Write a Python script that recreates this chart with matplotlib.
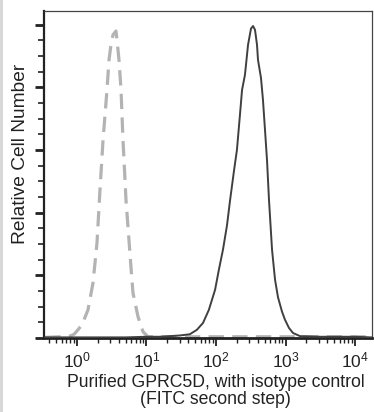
import matplotlib
matplotlib.use("Agg")
import matplotlib.pyplot as plt
from matplotlib.ticker import LogLocator, MultipleLocator, NullFormatter
from matplotlib.patches import Rectangle

plt.rcParams["font.family"] = ["Liberation Sans", "DejaVu Sans"]
plt.rcParams["mathtext.fontset"] = "custom"
plt.rcParams["mathtext.rm"] = "Liberation Sans"
plt.rcParams["mathtext.it"] = "Liberation Sans:italic"
plt.rcParams["mathtext.bf"] = "Liberation Sans:bold"

# GPRC5D stained sample (solid line)
sample_x = [0.35, 1.0, 5.0, 10.0, 15.6, 30, 42, 53, 65, 79, 97, 110, 126, 144, 159, 182,
            200, 221, 237, 261, 289, 319, 341, 364, 389, 402, 444, 474, 507, 542,
            560, 579, 640, 707, 780, 891, 984, 1123, 1282, 1617, 3133, 10000, 17000]
sample_y = [0.01, 0.01, 0.01, 0.02, 0.02, 0.04, 0.06, 0.13, 0.24, 0.45, 0.77, 1.09, 1.41,
            1.80, 2.19, 2.68, 3.00, 3.56, 3.96, 4.20, 4.68, 4.94, 4.98, 4.92, 4.68,
            4.44, 4.15, 3.80, 3.32, 2.84, 2.52, 2.20, 1.41, 0.93, 0.65, 0.42, 0.29,
            0.16, 0.08, 0.03, 0.02, 0.02, 0.01]

# isotype control (dashed line)
iso_x = [0.35, 0.57, 0.79, 0.91, 1.03, 1.18, 1.44, 1.70, 1.94, 2.14, 2.37, 2.53, 2.70,
         2.89, 3.08, 3.30, 3.64, 3.76, 4.02, 4.30, 4.59, 4.91, 5.07, 5.42, 5.98,
         6.39, 7.55, 8.91, 10.5, 100, 1000, 10000, 17000]
iso_y = [0.01, 0.02, 0.03, 0.06, 0.13, 0.21, 0.45, 0.88, 1.52, 2.36, 3.16, 3.56, 3.96,
         4.44, 4.68, 4.84, 4.90, 4.76, 4.44, 3.96, 3.16, 2.52, 2.20, 1.77, 1.13,
         0.72, 0.34, 0.10, 0.02, 0.02, 0.02, 0.02, 0.02]

x_label = "Purified GPRC5D, with isotype control\n(FITC second step)"
y_label = "Relative Cell Number"

fig = plt.figure(figsize=(3.74, 4.12), dpi=100)
ax = fig.add_axes([0.1176, 0.1796, 0.8771, 0.7937])

ax.plot(iso_x, iso_y, color="#b3b3b3", lw=2.3, dashes=(4.8, 2.6), zorder=2)
ax.plot(sample_x, sample_y, color="#404040", lw=1.4, zorder=3)

ax.set_xscale("log")
ax.set_xlim(0.335, 17570)
ax.set_ylim(0, 5.22)

ax.xaxis.set_major_locator(LogLocator(base=10, numticks=10))
ax.xaxis.set_minor_locator(LogLocator(base=10, subs=range(2, 10), numticks=20))
ax.xaxis.set_minor_formatter(NullFormatter())
ax.yaxis.set_major_locator(MultipleLocator(1))
ax.yaxis.set_minor_locator(MultipleLocator(0.25))
ax.set_yticklabels([])

ax.tick_params(axis="x", which="major", direction="out", length=6, width=1.3,
               labelsize=12.5, pad=3, colors="#222222")
ax.tick_params(axis="x", which="minor", direction="out", length=3.5, width=1.0,
               colors="#222222")
ax.tick_params(axis="y", which="major", direction="out", length=6.5, width=2.0,
               colors="#222222")
ax.tick_params(axis="y", which="minor", direction="out", length=4, width=1.2,
               colors="#222222")

for side in ["top", "right"]:
    ax.spines[side].set_linewidth(0.9)
    ax.spines[side].set_color("#444444")
ax.spines["left"].set_linewidth(1.6)
ax.spines["left"].set_color("#222222")
ax.spines["bottom"].set_linewidth(2.0)
ax.spines["bottom"].set_color("#222222")

ax.set_xlabel(x_label, fontsize=12.7, color="#222222", linespacing=1.0)
ax.xaxis.set_label_coords(0.523, -0.11)
ax.set_ylabel(y_label, fontsize=13.8, color="#222222")
ax.yaxis.set_label_coords(-0.045, 0.563)

# thin grey strip at the left edge of the picture
fig.patches.append(Rectangle((0, 0), 0.007, 1, transform=fig.transFigure,
                             facecolor="#d8d8d8", edgecolor="none"))

fig.savefig("out.png", dpi=100)
